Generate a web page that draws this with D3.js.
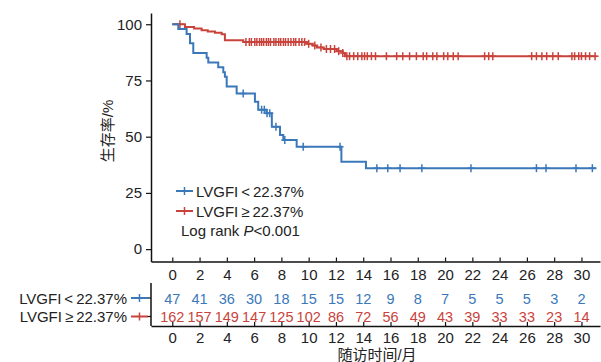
<!DOCTYPE html>
<html>
<head>
<meta charset="utf-8">
<script src="https://cdn.jsdelivr.net/npm/d3@7"></script>
<style>
  body { margin: 0; background: #fff; }
  svg text { font-family: "Liberation Sans", Arial, "Noto Sans CJK SC", sans-serif; }
</style>
</head>
<body>
<svg id="chart" width="601" height="362"></svg>
<script>
// group names and colours
const groupPrefix = "LVGFI";
const groupSigns = ["<", "≥"];
const groupCut = "22.37%";
const colors = ["#3a78ba", "#c9433c"];

// step points: time (months), survival (%)
const lowTimes = [0, 0.44, 1.05, 1.3, 1.54, 2.52, 2.64, 3.37, 3.74, 3.86, 3.99, 4.72, 6.06, 6.3, 6.9, 7.3, 7.9, 8.14, 9.12, 12.4, 14.2];
const lowSurv  = [100, 97.9, 95.7, 91.5, 87.2, 85.1, 83.0, 80.9, 78.7, 76.6, 72.3, 69.2, 65.5, 62.0, 60.4, 54.4, 50.7, 48.5, 45.5, 38.9, 36.0];
const lowCensor = [5.2, 6.55, 6.75, 6.95, 7.15, 7.6, 8.25, 9.6, 12.3, 15.0, 15.8, 16.7, 18.3, 21.9, 26.7, 27.4, 29.6, 30.8];
const lowEnd = 31.1;

const highTimes = [0, 0.93, 1.6, 2.15, 2.6, 3.13, 3.62, 3.86, 5.2, 9.85, 10.3, 10.6, 11.1, 12.05, 12.5, 12.66];
const highSurv  = [100, 98.8, 98.1, 97.3, 96.8, 96.2, 95.6, 92.9, 92.1, 91.3, 90.5, 89.7, 89.0, 88.0, 87.2, 85.8];
const highCensor = [0.56, 5.4, 5.65, 5.8, 6.05, 6.2, 6.4, 6.55, 6.7, 6.9, 7.05, 7.2, 7.45, 7.6, 7.8, 7.95, 8.15, 8.3, 8.5, 8.7, 8.9, 9.05, 9.3, 9.5, 9.7,
  10.0, 10.45, 10.9, 11.3, 11.6, 11.9, 12.2, 12.5, 12.8, 13.0, 13.3, 13.6, 13.9, 14.1, 14.3, 14.6, 14.9, 15.7, 16.45, 16.9, 17.4, 17.9, 18.4, 18.65,
  19.1, 19.4, 19.9, 20.2, 20.6, 20.96, 22.9, 23.2, 23.5, 26.35, 26.7, 27.1, 27.45, 27.9, 28.3, 29.3, 29.5, 29.8, 30.0, 30.3, 30.6, 31.0];
const highEnd = 31.1;

// number at risk
const riskTimes = [0, 2, 4, 6, 8, 10, 12, 14, 16, 18, 20, 22, 24, 26, 28, 30];
const lowRisk  = [47, 41, 36, 30, 18, 15, 15, 12, 9, 8, 7, 5, 5, 5, 3, 2];
const highRisk = [162, 157, 149, 147, 125, 102, 86, 72, 56, 49, 43, 39, 33, 33, 23, 14];

const yTicks = [0, 25, 50, 75, 100];
const xTicks = [0, 2, 4, 6, 8, 10, 12, 14, 16, 18, 20, 22, 24, 26, 28, 30];

const svg = d3.select("#chart");
const x = d3.scaleLinear().domain([-1.56, 31.36]).range([151, 600]);
const y = d3.scaleLinear().domain([-5.5, 105]).range([261.5, 13]);

function survAt(times, surv, t) {
  let s = surv[0];
  for (let i = 0; i < times.length; i++) if (times[i] <= t) s = surv[i];
  return s;
}

// sign drawn a bit wider, like the full-width glyph of the original
function groupLabel(sel, i) {
  sel.append("tspan").text(groupPrefix);
  sel.append("tspan").attr("dx", 3).text(groupSigns[i]);
  sel.append("tspan").attr("dx", 3).text(groupCut);
}

const series = [
  { times: lowTimes, surv: lowSurv, censor: lowCensor, end: lowEnd, color: colors[0] },
  { times: highTimes, surv: highSurv, censor: highCensor, end: highEnd, color: colors[1] }
];

// axes
const yAxis = svg.append("g").attr("transform", "translate(151,0)")
  .call(d3.axisLeft(y).tickValues(yTicks).tickSize(5).tickSizeOuter(0));
const xAxis = svg.append("g").attr("transform", "translate(0,261.5)")
  .call(d3.axisBottom(x).tickValues(xTicks).tickSize(-4).tickSizeOuter(0).tickPadding(8));
[yAxis, xAxis].forEach(a => {
  a.select(".domain").attr("stroke", "#111").attr("stroke-width", 1.5);
  a.selectAll(".tick line").attr("stroke", "#111").attr("stroke-width", 1.2);
  a.selectAll("text").attr("font-size", 15).attr("fill", "#222");
});
yAxis.selectAll("text").attr("dx", -1);

// curves
const line = d3.line().x(d => x(d[0])).y(d => y(d[1])).curve(d3.curveStepAfter);
series.slice().reverse().forEach(s => {
  const pts = s.times.map((t, i) => [t, s.surv[i]]);
  pts.push([s.end, s.surv[s.surv.length - 1]]);
  svg.append("path").attr("d", line(pts)).attr("fill", "none")
    .attr("stroke", s.color).attr("stroke-width", 2);
  const g = svg.append("g").attr("stroke", s.color).attr("stroke-width", 1.5);
  s.censor.forEach(t => {
    const cx = x(t), cy = y(survAt(s.times, s.surv, t));
    g.append("line").attr("x1", cx).attr("x2", cx).attr("y1", cy - 4).attr("y2", cy + 4);
    g.append("line").attr("x1", cx - 3.5).attr("x2", cx + 3.5).attr("y1", cy).attr("y2", cy);
  });
});

// legend
colors.forEach((c, i) => {
  const ly = 191 + i * 20;
  const g = svg.append("g");
  g.append("line").attr("x1", 176).attr("x2", 193).attr("y1", ly).attr("y2", ly)
    .attr("stroke", c).attr("stroke-width", 2);
  g.append("line").attr("x1", 184.5).attr("x2", 184.5).attr("y1", ly - 4).attr("y2", ly + 4)
    .attr("stroke", c).attr("stroke-width", 1.5);
  g.append("text").attr("x", 196).attr("y", ly + 5.5).attr("font-size", 15).attr("fill", "#222")
    .call(groupLabel, i);
});
const lr = svg.append("text").attr("x", 181).attr("y", 236).attr("font-size", 15).attr("fill", "#222");
lr.append("tspan").text("Log rank ");
lr.append("tspan").attr("font-style", "italic").text("P");
lr.append("tspan").text("<0.001");

// y label
svg.append("text").attr("transform", "translate(113,131) rotate(-90)")
  .attr("text-anchor", "middle").attr("font-size", 15).attr("fill", "#222").text("生存率/%");

// risk table
const rows = [lowRisk, highRisk];
const rowY = [298, 316.5];
svg.append("line").attr("x1", 151).attr("x2", 151).attr("y1", 283).attr("y2", 326)
  .attr("stroke", "#111").attr("stroke-width", 1.5);
const rAxis = svg.append("g").attr("transform", "translate(0,326)")
  .call(d3.axisBottom(x).tickValues(xTicks).tickSize(-4).tickSizeOuter(0).tickPadding(6));
rAxis.select(".domain").attr("stroke", "#111").attr("stroke-width", 1.5);
rAxis.selectAll(".tick line").attr("stroke", "#111").attr("stroke-width", 1.2);
rAxis.selectAll("text").attr("font-size", 15).attr("fill", "#222");

rows.forEach((vals, i) => {
  svg.append("line").attr("x1", 147).attr("x2", 151).attr("y1", rowY[i]).attr("y2", rowY[i])
    .attr("stroke", "#111").attr("stroke-width", 1.2);
  svg.append("line").attr("x1", 131).attr("x2", 148).attr("y1", rowY[i]).attr("y2", rowY[i])
    .attr("stroke", colors[i]).attr("stroke-width", 2);
  svg.append("line").attr("x1", 139.5).attr("x2", 139.5).attr("y1", rowY[i] - 4).attr("y2", rowY[i] + 4)
    .attr("stroke", colors[i]).attr("stroke-width", 1.5);
  svg.append("text").attr("x", 127).attr("y", rowY[i] + 5.5).attr("text-anchor", "end")
    .attr("font-size", 15).attr("fill", "#222").call(groupLabel, i);
  svg.append("g").selectAll("text").data(vals).join("text")
    .attr("x", (d, j) => x(riskTimes[j])).attr("y", rowY[i] + 5.5)
    .attr("text-anchor", "middle").attr("font-size", 14.5).attr("fill", colors[i])
    .text(d => d);
});

svg.append("text").attr("x", 377).attr("y", 360).attr("text-anchor", "middle")
  .attr("font-size", 15).attr("fill", "#222").text("随访时间/月");
</script>
</body>
</html>
